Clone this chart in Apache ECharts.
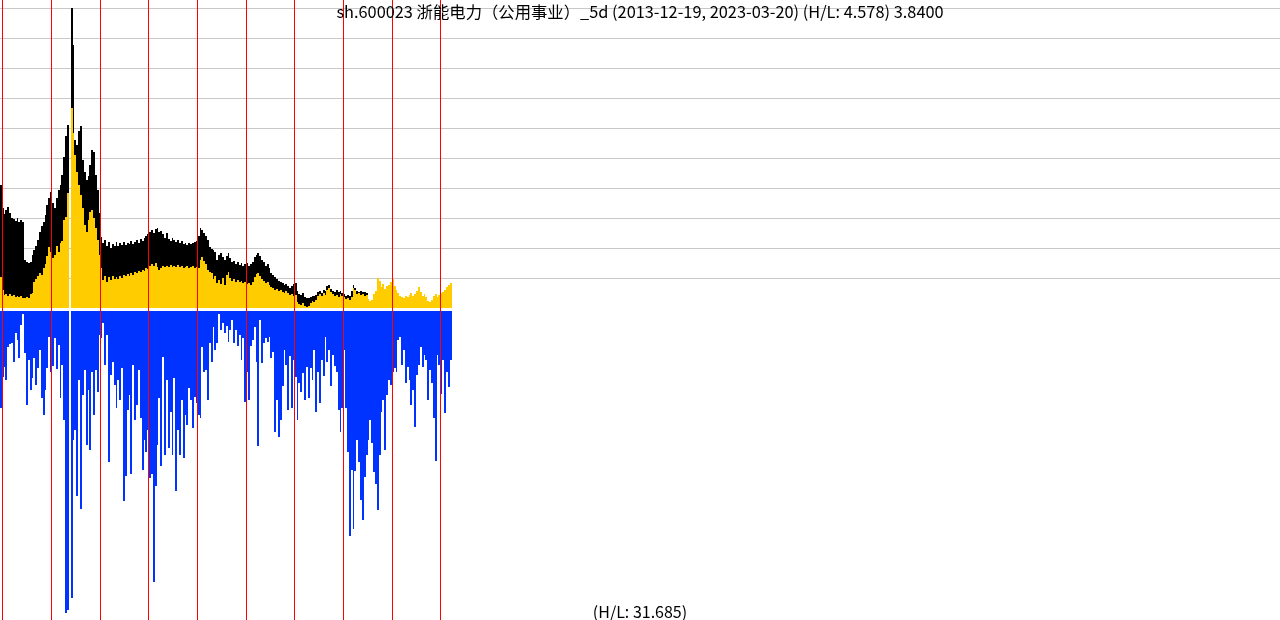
<!DOCTYPE html>
<html>
<head>
<meta charset="utf-8">
<script src="https://cdn.jsdelivr.net/npm/echarts@6/dist/echarts.min.js"></script>
<style>
html,body{margin:0;padding:0;background:#fff;}
#c{width:1280px;height:620px;}
</style>
</head>
<body>
<div id="c"></div>
<script>
// ---- data (bi-weekly bars starting 2013-12-19) ----
const startDate = '2013-12-19';
const stepDays = 14;
const yearMarks = ['2014-01-01','2015-01-01','2016-01-01','2017-01-01','2018-01-01','2019-01-01','2020-01-01','2021-01-01','2022-01-01','2023-01-01'];
const titleText = 'sh.600023 浙能电力（公用事业）_5d (2013-12-19, 2023-03-20) (H/L: 4.578) 3.8400';
const volText = '(H/L: 31.685)';

const highPrice = [
7.10,6.33,6.13,6.27,6.37,6.17,6.00,5.97,5.90,6.00,
5.87,5.93,5.87,4.60,4.53,4.50,4.53,4.77,4.93,5.07,
5.27,5.53,5.73,5.87,6.10,6.43,6.67,6.87,6.50,6.33,
6.67,6.93,7.10,7.43,8.03,8.73,9.10,null,13.00,11.77,
8.60,8.43,8.90,9.07,7.93,7.53,7.27,7.40,7.77,8.27,
8.20,7.43,6.93,6.17,5.37,5.17,5.27,5.07,5.20,5.00,
5.13,5.07,5.20,5.07,5.17,5.10,5.20,5.10,5.17,5.13,
5.23,5.13,5.20,5.27,5.17,5.30,5.23,5.33,5.40,5.47,
5.53,5.60,5.50,5.63,5.67,5.53,5.57,5.47,5.33,5.50,
5.30,5.23,5.33,5.27,5.20,5.27,5.17,5.23,5.13,5.17,
5.10,5.17,5.13,5.17,5.20,5.23,5.40,5.67,5.60,5.50,
5.40,5.27,5.03,4.97,4.93,4.87,4.60,4.77,4.83,4.70,
4.60,4.73,4.83,4.67,4.53,4.57,4.47,4.53,4.43,4.50,
4.40,4.47,4.50,4.40,4.47,4.53,4.70,4.77,4.83,4.73,
4.60,4.53,4.40,4.47,4.33,4.17,4.10,4.03,3.97,3.90,
3.87,3.83,3.77,3.80,3.73,3.67,3.73,3.80,3.83,3.57,
3.47,3.43,3.50,3.37,3.33,3.33,3.37,3.40,3.40,3.43,
3.53,3.57,3.50,3.60,3.57,3.73,3.77,3.63,3.57,3.53,
3.60,3.53,3.57,3.50,3.47,3.40,3.43,3.40,3.57,3.77,
3.67,3.57,3.53,3.57,3.53,3.53,3.50
];

const closePrice = [
4.03,3.60,3.43,3.47,3.40,3.47,3.40,3.43,3.37,3.40,
3.37,3.40,3.33,3.33,3.37,3.33,3.47,3.50,3.87,3.97,
4.07,4.17,4.10,4.33,4.47,4.73,5.03,4.87,4.67,4.77,
5.07,4.87,5.17,5.23,5.93,6.03,6.83,null,9.67,8.83,
8.10,7.53,7.10,6.77,6.33,5.77,5.53,5.93,6.20,6.27,
6.00,5.67,5.27,4.77,4.33,3.93,4.07,3.87,4.03,3.93,
4.07,3.97,4.03,3.97,4.07,4.00,4.10,4.07,4.13,4.07,
4.17,4.10,4.20,4.17,4.23,4.20,4.27,4.23,4.33,4.30,
4.40,4.47,4.40,4.50,4.37,4.27,4.33,4.40,4.37,4.40,
4.37,4.43,4.37,4.40,4.37,4.43,4.37,4.40,4.33,4.37,
4.40,4.33,4.37,4.40,4.33,4.37,4.33,4.60,4.70,4.57,
4.47,4.27,4.20,4.17,3.97,4.07,3.83,3.93,3.80,4.00,
3.77,4.10,4.20,4.00,3.90,3.97,3.87,3.93,3.87,3.90,
3.83,3.87,3.80,3.83,3.77,3.87,4.03,4.13,4.17,4.07,
3.97,3.90,3.83,3.87,3.77,3.70,3.67,3.60,3.63,3.57,
3.60,3.53,3.50,3.57,3.50,3.43,3.47,3.40,3.43,3.20,
3.13,3.10,3.17,3.07,3.03,3.07,3.17,3.23,3.20,3.27,
3.40,3.47,3.40,3.50,3.43,3.60,3.67,3.53,3.47,3.40,
3.43,3.37,3.47,3.40,3.37,3.30,3.33,3.27,3.37,3.67,
3.60,3.47,3.50,3.43,3.47,3.40,3.43,3.30,3.23,3.27,
3.47,3.57,4.00,3.90,3.70,3.80,3.63,3.73,3.77,3.87,
3.97,3.73,3.60,3.50,3.40,3.37,3.33,3.40,3.37,3.43,
3.50,3.40,3.47,3.57,3.70,3.53,3.40,3.47,3.37,3.23,
3.20,3.27,3.40,3.47,3.37,3.43,3.50,3.53,3.60,3.70,
3.77,3.84
];

const volume = [
97,66,56,69,36,33,32,51,22,29,
47,14,3,42,94,49,79,67,47,74,
57,39,87,104,79,57,26,61,55,27,
58,34,87,54,109,302,299,null,287,129,
119,185,69,198,84,59,134,79,139,61,
104,59,81,24,27,12,54,24,151,64,
51,74,97,69,89,57,190,165,99,84,
163,54,109,94,59,107,159,129,141,119,
167,163,271,175,134,87,155,46,144,69,
137,101,144,67,180,119,144,89,147,104,
114,77,89,117,86,92,104,107,36,61,
59,89,32,51,16,39,32,3,19,12,
22,15,31,19,9,32,19,35,24,49,
27,91,61,89,35,29,16,51,135,9,
52,32,27,31,26,47,41,121,89,126,
109,75,39,54,99,45,97,49,66,109,
72,81,62,89,56,87,57,69,39,101,
61,92,49,65,26,51,39,75,44,55,
61,99,121,97,39,97,141,225,159,218,
160,129,151,189,209,166,144,129,109,132,
161,173,199,144,101,89,139,84,69,74,
61,57,61,29,26,54,39,72,56,69,
94,79,116,64,54,36,56,44,49,89,
59,72,107,150,44,54,83,49,102,61,
76,49
];

// ---- build ----
const DAY = 86400000;
const t0 = Date.parse(startDate + 'T00:00:00Z');
const dates = volume.map((_, i) => t0 + i * stepDays * DAY);
const xMin = Date.parse('2014-01-01T00:00:00Z') - 18.75 * DAY;
const xMax = xMin + 9601 * DAY;
const pair = arr => arr.map((v, i) => [dates[i], v]);
const PRICE_MIN = 3, VOL_MIN = 0;

const hiddenX = (gi) => ({
  type: 'time', gridIndex: gi, min: xMin, max: xMax,
  axisLine: {show: false}, axisTick: {show: false}, axisLabel: {show: false}, splitLine: {show: false}
});

// pixel-snapped bar: edges rounded so neighbouring bars meet exactly
function barRenderer(color, baseValue) {
  return function (params, api) {
    const v = api.value(1);
    if (v == null || isNaN(v)) return null;
    const t = api.value(0);
    const p = api.coord([t, v]);
    const b = api.coord([t, baseValue]);
    const w = api.size([stepDays * DAY, 0])[0];
    const x0 = Math.round(p[0] - w / 2);
    const x1 = Math.round(p[0] + w / 2);
    const y0 = Math.round(Math.min(p[1], b[1]));
    const y1 = Math.round(Math.max(p[1], b[1]));
    if (x1 <= x0 || y1 <= y0) return null;
    return {
      type: 'rect',
      shape: {x: x0, y: y0, width: x1 - x0, height: y1 - y0},
      style: {fill: color}
    };
  };
}

const chart = echarts.init(document.getElementById('c'), null, {renderer: 'canvas'});
chart.setOption({
  animation: false,
  backgroundColor: '#ffffff',
  title: [
    {text: titleText, left: 'center', top: -1,
     textStyle: {fontFamily: 'Noto Sans CJK SC, sans-serif', fontSize: 16.35, fontWeight: 'normal', color: '#000'}},
    {text: volText, left: 'center', top: 599,
     textStyle: {fontFamily: 'Noto Sans CJK SC, sans-serif', fontSize: 16, fontWeight: 'normal', color: '#000'}}
  ],
  grid: [
    {left: 0, right: 0, top: 8, height: 300},
    {left: 0, right: 0, top: 311, height: 302},
    {left: 0, right: 0, top: 0, bottom: 0}
  ],
  xAxis: [hiddenX(0), hiddenX(1), hiddenX(2)],
  yAxis: [
    {type: 'value', gridIndex: 0, min: 3, max: 13, interval: 1,
     axisLine: {show: false}, axisTick: {show: false}, axisLabel: {show: false},
     splitLine: {show: true, showMinLine: false, lineStyle: {color: '#c8c8c8', width: 1}}},
    {type: 'value', gridIndex: 1, min: 0, max: 302, inverse: true,
     axisLine: {show: false}, axisTick: {show: false}, axisLabel: {show: false}, splitLine: {show: false}},
    {type: 'value', gridIndex: 2, min: 0, max: 1,
     axisLine: {show: false}, axisTick: {show: false}, axisLabel: {show: false}, splitLine: {show: false}}
  ],
  series: [
    {type: 'line', xAxisIndex: 2, yAxisIndex: 2, z: 1, silent: true,
     data: [[xMin, 0]], showSymbol: false, symbolSize: 0, lineStyle: {opacity: 0},
     markLine: {silent: true, symbol: ['none', 'none'], label: {show: false},
       lineStyle: {color: '#ff0000', width: 1, type: 'solid'},
       emphasis: {disabled: true},
       data: yearMarks.map(d => ({xAxis: Date.parse(d + 'T00:00:00Z')}))}},
    {type: 'custom', name: 'high', xAxisIndex: 0, yAxisIndex: 0, z: 3, silent: true,
     renderItem: barRenderer('#000000', PRICE_MIN), encode: {x: 0, y: 1}, data: pair(highPrice)},
    {type: 'custom', name: 'close', xAxisIndex: 0, yAxisIndex: 0, z: 4, silent: true,
     renderItem: barRenderer('#ffcc00', PRICE_MIN), encode: {x: 0, y: 1}, data: pair(closePrice)},
    {type: 'custom', name: 'volume', xAxisIndex: 1, yAxisIndex: 1, z: 3, silent: true,
     renderItem: barRenderer('#0033ff', VOL_MIN), encode: {x: 0, y: 1}, data: pair(volume)}
  ]
});
</script>
</body>
</html>
